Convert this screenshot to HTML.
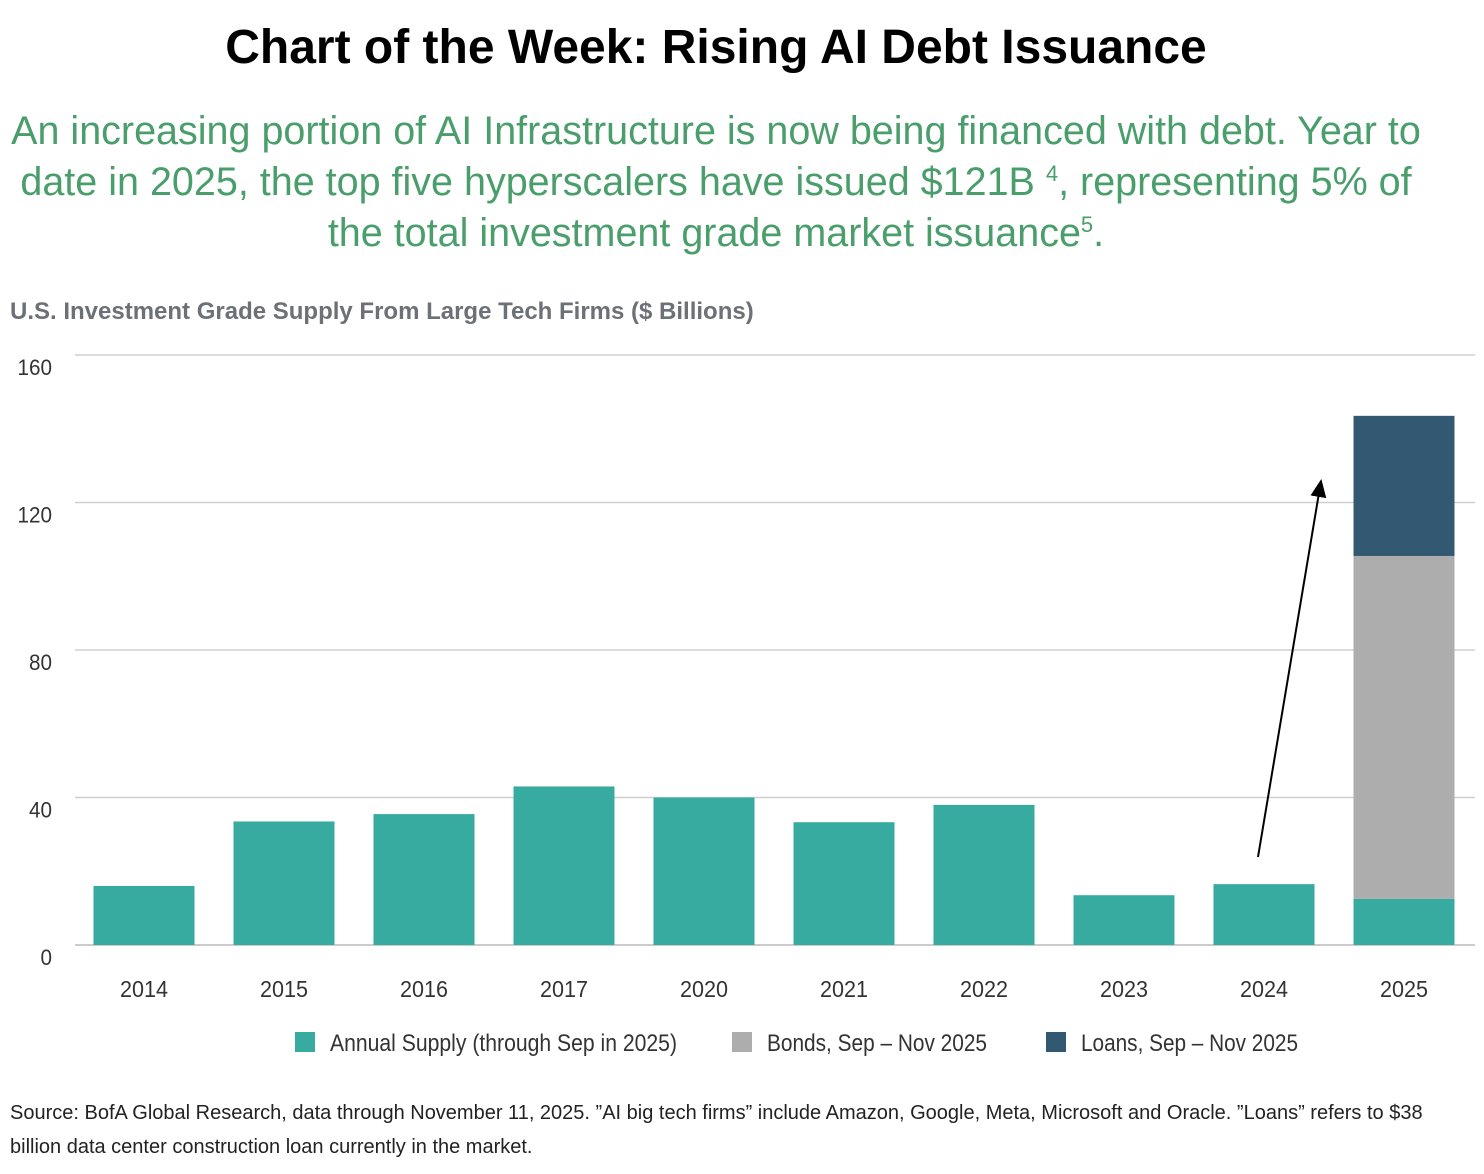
<!DOCTYPE html>
<html><head><meta charset="utf-8"><style>
body{margin:0;width:1484px;height:1174px;background:#fff;overflow:hidden;font-family:"Liberation Sans",sans-serif;position:relative}
.t{position:absolute;white-space:nowrap}
sup{line-height:0;vertical-align:0;position:relative;top:-14px}
</style></head><body>
<div class="t" style="left:0;width:1432px;text-align:center;top:20px;font-size:48px;font-weight:bold;color:#000">Chart of the Week: Rising AI Debt Issuance</div>
<div class="t" style="left:0;width:1432px;text-align:center;top:106px;font-size:39.5px;line-height:51px;color:#4a9e6b;white-space:normal">An increasing portion of AI Infrastructure is now being financed with debt. Year to<br>date in 2025, the top five hyperscalers have issued $121B <sup style="font-size:22px">4</sup>, representing 5% of<br>the total investment grade market issuance<sup style="font-size:22px">5</sup>.</div>
<div class="t" style="left:10px;top:298px;font-size:24px;font-weight:bold;color:#6b7177">U.S. Investment Grade Supply From Large Tech Firms ($ Billions)</div>
<svg id="chart" width="1484" height="1100" style="position:absolute;left:0;top:0" font-family="'Liberation Sans',sans-serif"></svg>
<div class="t" style="left:10px;top:1096px;font-size:20px;line-height:34px;color:#222;white-space:normal;width:1470px">Source: BofA Global Research, data through November 11, 2025. ”AI big tech firms” include Amazon, Google, Meta, Microsoft and Oracle. ”Loans” refers to $38<br>billion data center construction loan currently in the market.</div>
<script>
const categories=["2014","2015","2016","2017","2020","2021","2022","2023","2024","2025"];
const annual=[16,33.5,35.5,43,40,33.3,38,13.5,16.5,12.5];
const bonds=[0,0,0,0,0,0,0,0,0,93];
const loans=[0,0,0,0,0,0,0,0,0,38];
const yTicks=[0,40,80,120,160];
const legendLabels=["Annual Supply (through Sep in 2025)","Bonds, Sep – Nov 2025","Loans, Sep – Nov 2025"];
const colors=["#38aba0","#adadad","#335872"];
const svg=document.getElementById('chart');const NS="http://www.w3.org/2000/svg";
function y(v){return 945-v*(590/160);}
function x(i){return 144+i*140;}
function mk(t,a){const e=document.createElementNS(NS,t);for(const k in a)e.setAttribute(k,a[k]);svg.appendChild(e);return e;}
yTicks.forEach(v=>{
 const l=mk('line',{x1:75,x2:1475,y1:y(v),y2:y(v),stroke:v===0?'#bbb':'#d0d0d0','stroke-width':1.5});
 
 
 const t=mk('text',{x:52,y:y(v)+20,'text-anchor':'end','font-size':22,fill:'#333',textLength:String(v).length*11.5,lengthAdjust:'spacingAndGlyphs'});t.textContent=v;
 
 
});
categories.forEach((c,i)=>{
 let base=0;[annual,bonds,loans].forEach((s,k)=>{
  if(s[i]>0){const r=mk('rect',{x:x(i)-50.5,width:101,y:y(base+s[i]),height:y(base)-y(base+s[i]),fill:colors[k]});
  
  }
  base+=s[i];});
 const t=mk('text',{x:x(i),y:997,'text-anchor':'middle','font-size':23,fill:'#333',textLength:48,lengthAdjust:'spacingAndGlyphs'});t.textContent=c;
 
 
});
const d=mk('defs',{});d.innerHTML='<marker id="ah" markerWidth="10" markerHeight="10" refX="8" refY="5" orient="auto"><path d="M0,1 L9,5 L0,9 z" fill="#000"/></marker>';
const a=mk('line',{x1:1258,y1:857,x2:1321,y2:481,stroke:'#000','stroke-width':2,'marker-end':'url(#ah)'});


const lx=[295,732,1046];
const lw=[347,220,217];
legendLabels.forEach((s,k)=>{
 const r=mk('rect',{x:lx[k],y:1032,width:20,height:20,fill:colors[k]});
 
 
 const t=mk('text',{x:lx[k]+35,y:1051,'font-size':24,fill:'#333',textLength:lw[k],lengthAdjust:'spacingAndGlyphs'});t.textContent=s;
 
 
});
</script>
</body></html>
